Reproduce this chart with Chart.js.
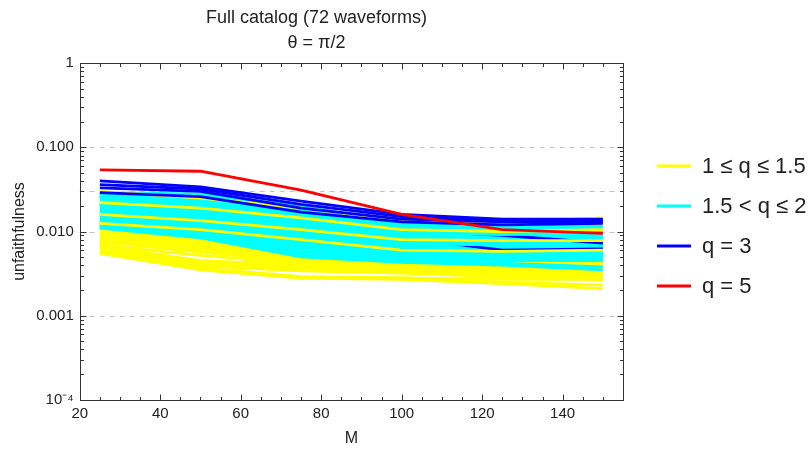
<!DOCTYPE html>
<html>
<head>
<meta charset="utf-8">
<script src="https://cdn.jsdelivr.net/npm/chart.js@4.4.1/dist/chart.umd.min.js"></script>
<style>
  html, body { margin: 0; padding: 0; background: #fff; }
</style>
</head>
<body>
<canvas id="myChart" width="812" height="450"></canvas>
<script>
// masses where every waveform was evaluated
const masses = [25, 50, 75, 100, 125, 150];

// unfaithfulness per waveform, one row per waveform, values at the masses above
const yellowRuns = [
  [0.030, 0.025, 0.019, 0.0135, 0.013, 0.0145],
  [0.028, 0.024, 0.018, 0.013, 0.0125, 0.0135],
  [0.025, 0.021, 0.016, 0.012, 0.0115, 0.012],
  [0.022, 0.019, 0.0145, 0.0105, 0.010, 0.0105],
  [0.020, 0.017, 0.013, 0.0098, 0.0092, 0.0095],
  [0.018, 0.015, 0.0115, 0.0088, 0.0085, 0.0082],
  [0.016, 0.0135, 0.0105, 0.008, 0.0078, 0.0078],
  [0.015, 0.0125, 0.0095, 0.0072, 0.007, 0.0075],
  [0.0135, 0.0112, 0.0088, 0.0066, 0.0062, 0.0068],
  [0.0125, 0.0105, 0.008, 0.006, 0.0058, 0.006],
  [0.0118, 0.0098, 0.0072, 0.0055, 0.0052, 0.0049],
  [0.0114, 0.0093, 0.0068, 0.0052, 0.0049, 0.0047],
  [0.011, 0.009, 0.0065, 0.005, 0.0047, 0.0045],
  [0.0106, 0.0088, 0.0062, 0.0048, 0.0045, 0.0043],
  [0.0104, 0.0085, 0.006, 0.0046, 0.0043, 0.0042],
  [0.010, 0.0082, 0.0058, 0.0045, 0.0042, 0.004],
  [0.0096, 0.0078, 0.0056, 0.0044, 0.0041, 0.0039],
  [0.0094, 0.0074, 0.0054, 0.0043, 0.004, 0.0037],
  [0.009, 0.007, 0.0052, 0.0042, 0.0039, 0.0036],
  [0.0088, 0.0066, 0.005, 0.0041, 0.0037, 0.0033],
  [0.0085, 0.0062, 0.0048, 0.004, 0.0036, 0.0031],
  [0.0082, 0.006, 0.0046, 0.0039, 0.0035, 0.003],
  [0.0078, 0.0058, 0.0045, 0.0038, 0.0034, 0.0029],
  [0.0075, 0.0057, 0.0044, 0.0037, 0.0033, 0.0028],
  [0.0072, 0.0038, 0.0052, 0.0045, 0.0042, 0.0041],
  [0.0069, 0.0052, 0.0042, 0.0036, 0.0032, 0.0028],
  [0.0067, 0.0045, 0.004, 0.0035, 0.0032, 0.0029],
  [0.0065, 0.0042, 0.0038, 0.0034, 0.0031, 0.0028],
  [0.0063, 0.004, 0.0036, 0.0033, 0.003, 0.0027],
  [0.0061, 0.0039, 0.0034, 0.0032, 0.0029, 0.0027],
  [0.0059, 0.0037, 0.0029, 0.0028, 0.0025, 0.0023],
  [0.0057, 0.0036, 0.0028, 0.0027, 0.0024, 0.0021],
  [0.0055, 0.0035, 0.0028, 0.0028, 0.0027, 0.0027]
];

const cyanRuns = [
  [0.029, 0.028, 0.020, 0.0125, 0.012, 0.0115],
  [0.028, 0.027, 0.019, 0.012, 0.0115, 0.011],
  [0.027, 0.026, 0.018, 0.0118, 0.011, 0.0108],
  [0.026, 0.024, 0.017, 0.0115, 0.0105, 0.0105],
  [0.025, 0.023, 0.0165, 0.011, 0.010, 0.0102],
  [0.024, 0.022, 0.016, 0.0105, 0.0098, 0.010],
  [0.023, 0.021, 0.015, 0.010, 0.0095, 0.0098],
  [0.022, 0.020, 0.0145, 0.0098, 0.0092, 0.0095],
  [0.021, 0.019, 0.014, 0.0095, 0.009, 0.0092],
  [0.0205, 0.018, 0.0135, 0.0092, 0.0088, 0.009],
  [0.020, 0.0175, 0.013, 0.009, 0.0085, 0.0088],
  [0.0195, 0.017, 0.0125, 0.0088, 0.0083, 0.0085],
  [0.019, 0.0165, 0.012, 0.0085, 0.008, 0.0082],
  [0.018, 0.016, 0.0115, 0.0082, 0.0078, 0.008],
  [0.0175, 0.0155, 0.011, 0.008, 0.0075, 0.0078],
  [0.017, 0.015, 0.0105, 0.0078, 0.0073, 0.0075],
  [0.0165, 0.0145, 0.010, 0.0075, 0.0071, 0.0072],
  [0.016, 0.014, 0.0095, 0.0072, 0.0069, 0.007],
  [0.0155, 0.0135, 0.0092, 0.007, 0.0067, 0.0068],
  [0.015, 0.013, 0.009, 0.0068, 0.0065, 0.0066],
  [0.0145, 0.0125, 0.0087, 0.0066, 0.0063, 0.0064],
  [0.014, 0.012, 0.0083, 0.0064, 0.0061, 0.0062],
  [0.0135, 0.0115, 0.008, 0.0062, 0.0059, 0.006],
  [0.013, 0.011, 0.0077, 0.006, 0.0057, 0.0058],
  [0.0128, 0.0105, 0.0073, 0.0058, 0.0055, 0.0056],
  [0.0125, 0.010, 0.007, 0.0056, 0.0053, 0.0054],
  [0.012, 0.0098, 0.0066, 0.0054, 0.0051, 0.0052],
  [0.0118, 0.0095, 0.0062, 0.0052, 0.0049, 0.005],
  [0.0116, 0.0092, 0.0058, 0.005, 0.0047, 0.0048],
  [0.0114, 0.009, 0.0055, 0.0047, 0.0045, 0.0045],
  [0.0112, 0.0087, 0.0052, 0.0045, 0.0042, 0.0038],
  [0.011, 0.0084, 0.005, 0.0043, 0.004, 0.0035]
];

const blueRuns = [
  [0.040, 0.034, 0.023, 0.016, 0.014, 0.014],
  [0.036, 0.032, 0.021, 0.015, 0.0135, 0.0135],
  [0.033, 0.030, 0.019, 0.014, 0.013, 0.013],
  [0.029, 0.026, 0.017, 0.013, 0.012, 0.0125],
  [0.026, 0.022, 0.015, 0.0105, 0.009, 0.0073],
  [0.021, 0.018, 0.013, 0.0085, 0.006, 0.0062]
];

const redRuns = [
  [0.054, 0.052, 0.031, 0.016, 0.0105, 0.0095]
];

const groupLabels = ['1 ≤ q ≤ 1.5', '1.5 < q ≤ 2', 'q = 3', 'q = 5'];
const groupColors = ['#ffff00', '#00ffff', '#0000ff', '#ff0000'];

const xTicks = [20, 40, 60, 80, 100, 120, 140];
const yTicks = [0.0001, 0.001, 0.01, 0.1, 1];
const yTickLabels = ['10⁻⁴', '0.001', '0.010', '0.100', '1'];
const dashedLevels = [0.1, 0.03, 0.01, 0.001];

// yellow runs that are drawn over the cyan band
const yellowOnTop = [0, 3, 6, 9];

Chart.defaults.font.family = '"Liberation Sans", Arial, sans-serif';
Chart.defaults.color = '#222';

const datasets = [];
function addRun(vals, g) {
  datasets.push({
    label: groupLabels[g],
    data: masses.map((m, i) => ({ x: m, y: vals[i] })),
    borderColor: groupColors[g],
    backgroundColor: groupColors[g],
    borderWidth: 2.8,
    pointRadius: 0,
    tension: 0,
    borderJoinStyle: 'round',
    borderCapStyle: 'butt'
  });
}
// first dataset ends up drawn on top
redRuns.forEach(r => addRun(r, 3));
blueRuns.slice(0, 4).forEach(r => addRun(r, 2));
yellowOnTop.forEach(i => addRun(yellowRuns[i], 0));
cyanRuns.forEach((r, i) => {
  if (i === 8) addRun(blueRuns[4], 2);
  if (i === 18) addRun(blueRuns[5], 2);
  addRun(r, 1);
});
yellowRuns.forEach((r, i) => { if (!yellowOnTop.includes(i)) addRun(r, 0); });

// frame with inward ticks on all sides, dashed reference lines
const frame = {
  id: 'frame',
  beforeDatasetsDraw(chart) {
    const { ctx, chartArea: a, scales: { y } } = chart;
    ctx.save();
    ctx.strokeStyle = '#c4c4c4';
    ctx.lineWidth = 1;
    ctx.setLineDash([5, 5]);
    dashedLevels.forEach(v => {
      const py = Math.round(y.getPixelForValue(v)) + 0.5;
      ctx.beginPath();
      ctx.moveTo(a.left, py);
      ctx.lineTo(a.right, py);
      ctx.stroke();
    });
    ctx.restore();
  },
  afterDatasetsDraw(chart) {
    const { ctx, chartArea: a, scales: { x, y } } = chart;
    ctx.save();
    ctx.strokeStyle = '#333';
    ctx.lineWidth = 1;
    const L = Math.round(a.left) + 0.5, R = Math.round(a.right) + 0.5;
    const T = Math.round(a.top) + 0.5, B = Math.round(a.bottom) + 0.5;
    ctx.strokeRect(L, T, R - L, B - T);
    ctx.beginPath();
    for (let m = 20; m <= 155; m += 5) {
      const px = Math.round(x.getPixelForValue(m)) + 0.5;
      const len = m % 20 === 0 ? 6 : 3.5;
      ctx.moveTo(px, B); ctx.lineTo(px, B - len);
      ctx.moveTo(px, T); ctx.lineTo(px, T + len);
    }
    for (let e = -4; e <= 0; e++) {
      for (let k = 1; k <= 9; k++) {
        const v = k * Math.pow(10, e);
        if (v > 1) break;
        const py = Math.round(y.getPixelForValue(v)) + 0.5;
        const len = k === 1 ? 6 : 3.5;
        ctx.moveTo(L, py); ctx.lineTo(L + len, py);
        ctx.moveTo(R, py); ctx.lineTo(R - len, py);
      }
    }
    ctx.stroke();
    ctx.restore();
  }
};

// legend drawn at the right of the plot
const sideLegend = {
  id: 'sideLegend',
  afterDraw(chart) {
    const { ctx, chartArea: a } = chart;
    const x0 = a.right + 34;
    const mid = (a.top + a.bottom) / 2 - 6;
    ctx.save();
    ctx.font = '22px "Liberation Sans", Arial, sans-serif';
    ctx.textBaseline = 'middle';
    groupLabels.forEach((t, i) => {
      const yy = Math.round(mid + (i - 1.5) * 40);
      ctx.strokeStyle = groupColors[i];
      ctx.lineWidth = 3;
      ctx.beginPath();
      ctx.moveTo(x0, yy);
      ctx.lineTo(x0 + 34, yy);
      ctx.stroke();
      ctx.fillStyle = '#222';
      ctx.fillText(t, x0 + 45, yy + 1);
    });
    ctx.restore();
  }
};

new Chart(document.getElementById('myChart'), {
  type: 'line',
  data: { datasets: datasets },
  options: {
    responsive: false,
    animation: false,
    layout: { padding: { left: 10, right: 189, top: 0, bottom: 2 } },
    plugins: {
      legend: { display: false },
      tooltip: { enabled: false },
      title: {
        display: true,
        text: 'Full catalog (72 waveforms)',
        font: { size: 18, weight: 'normal' },
        color: '#222',
        padding: { top: 7, bottom: 4 }
      },
      subtitle: {
        display: true,
        text: 'θ = π/2',
        font: { size: 18 },
        color: '#222',
        padding: { top: 0, bottom: 9 }
      }
    },
    scales: {
      x: {
        type: 'linear',
        min: 20,
        max: 155,
        grid: { display: false, drawTicks: false },
        border: { display: false },
        afterBuildTicks: s => { s.ticks = xTicks.map(v => ({ value: v })); },
        ticks: { padding: 5, font: { size: 15 }, color: '#222', maxRotation: 0 },
        title: { display: true, text: 'M', font: { size: 16 }, color: '#222', padding: { top: 1, bottom: 0 } }
      },
      y: {
        type: 'logarithmic',
        min: 0.0001,
        max: 1,
        grid: { display: false, drawTicks: false },
        border: { display: false },
        afterBuildTicks: s => { s.ticks = yTicks.map(v => ({ value: v })); },
        ticks: {
          padding: 6,
          font: { size: 15 },
          color: '#222',
          autoSkip: false,
          callback: (v, i) => yTickLabels[i]
        },
        title: { display: true, text: 'unfaithfulness', font: { size: 16 }, color: '#222', padding: { top: 0, bottom: 1 } }
      }
    }
  },
  plugins: [frame, sideLegend]
});
</script>
</body>
</html>
